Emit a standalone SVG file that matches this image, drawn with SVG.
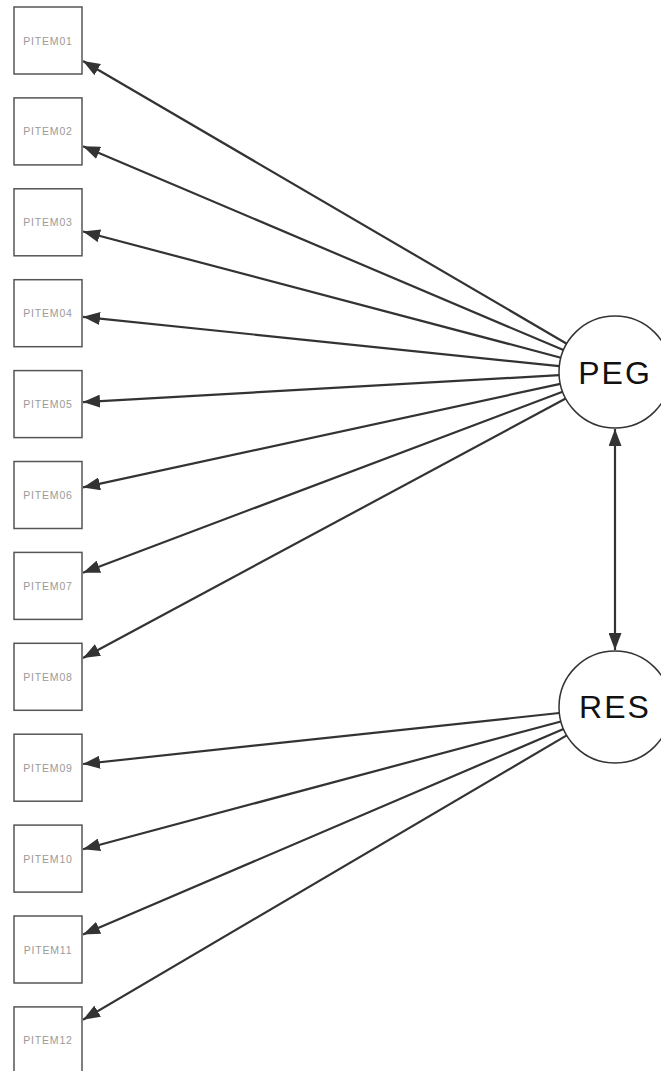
<svg xmlns="http://www.w3.org/2000/svg" width="661" height="1071" viewBox="0 0 661 1071">
<style>
.box{fill:#fff;stroke:#555;stroke-width:1.5}
.lbl{font-family:"Liberation Sans",Arial,sans-serif;font-size:10.5px;fill:#9a9a9a;text-anchor:middle;letter-spacing:0.8px}
.lat{fill:#fff;stroke:#333;stroke-width:1.5}
.ltxt{font-family:"Liberation Sans",Arial,sans-serif;font-size:32px;fill:#111;text-anchor:middle;letter-spacing:2px}
.edge{stroke:#333;stroke-width:2.2;fill:none}
</style>
<defs>
<marker id="ah" viewBox="0 0 17 13" refX="17" refY="6.5" markerWidth="17" markerHeight="13" markerUnits="userSpaceOnUse" orient="auto-start-reverse">
<path d="M0,0 L17,6.5 L0,13 z" fill="#333"/>
</marker>
</defs>
<rect width="661" height="1071" fill="#fff"/>
<g id="connectors">
<line class="edge" x1="566.7" y1="343.7" x2="83" y2="61.0" marker-end="url(#ah)"/>
<line class="edge" x1="563.4" y1="350.1" x2="83" y2="146.2" marker-end="url(#ah)"/>
<line class="edge" x1="560.9" y1="357.7" x2="83" y2="231.5" marker-end="url(#ah)"/>
<line class="edge" x1="559.3" y1="366.2" x2="83" y2="316.8" marker-end="url(#ah)"/>
<line class="edge" x1="559.1" y1="375.2" x2="83" y2="402.1" marker-end="url(#ah)"/>
<line class="edge" x1="560.3" y1="383.9" x2="83" y2="487.4" marker-end="url(#ah)"/>
<line class="edge" x1="562.6" y1="391.8" x2="83" y2="572.7" marker-end="url(#ah)"/>
<line class="edge" x1="565.7" y1="398.5" x2="83" y2="658.0" marker-end="url(#ah)"/>
<line class="edge" x1="559.3" y1="713.0" x2="83" y2="764.0" marker-end="url(#ah)"/>
<line class="edge" x1="560.9" y1="721.5" x2="83" y2="849.2" marker-end="url(#ah)"/>
<line class="edge" x1="563.5" y1="729.0" x2="83" y2="934.5" marker-end="url(#ah)"/>
<line class="edge" x1="566.7" y1="735.4" x2="83" y2="1019.8" marker-end="url(#ah)"/>
<line class="edge" x1="615" y1="429" x2="615" y2="650" marker-start="url(#ah)" marker-end="url(#ah)"/>
</g>
<g id="PITEM01"><rect class="box" x="14" y="7" width="68" height="67"/><text class="lbl" x="48" y="44.5">PITEM01</text></g>
<g id="PITEM02"><rect class="box" x="14" y="97.9" width="68" height="67"/><text class="lbl" x="48" y="135.4">PITEM02</text></g>
<g id="PITEM03"><rect class="box" x="14" y="188.8" width="68" height="67"/><text class="lbl" x="48" y="226.3">PITEM03</text></g>
<g id="PITEM04"><rect class="box" x="14" y="279.7" width="68" height="67"/><text class="lbl" x="48" y="317.2">PITEM04</text></g>
<g id="PITEM05"><rect class="box" x="14" y="370.6" width="68" height="67"/><text class="lbl" x="48" y="408.1">PITEM05</text></g>
<g id="PITEM06"><rect class="box" x="14" y="461.5" width="68" height="67"/><text class="lbl" x="48" y="499">PITEM06</text></g>
<g id="PITEM07"><rect class="box" x="14" y="552.4" width="68" height="67"/><text class="lbl" x="48" y="589.9">PITEM07</text></g>
<g id="PITEM08"><rect class="box" x="14" y="643.3" width="68" height="67"/><text class="lbl" x="48" y="680.8">PITEM08</text></g>
<g id="PITEM09"><rect class="box" x="14" y="734.2" width="68" height="67"/><text class="lbl" x="48" y="771.7">PITEM09</text></g>
<g id="PITEM10"><rect class="box" x="14" y="825.1" width="68" height="67"/><text class="lbl" x="48" y="862.6">PITEM10</text></g>
<g id="PITEM11"><rect class="box" x="14" y="916" width="68" height="67"/><text class="lbl" x="48" y="953.5">PITEM11</text></g>
<g id="PITEM12"><rect class="box" x="14" y="1006.9" width="68" height="67"/><text class="lbl" x="48" y="1044.4">PITEM12</text></g>
<g id="PEG"><circle class="lat" cx="615" cy="372" r="56"/><text class="ltxt" x="615" y="384">PEG</text></g>
<g id="RES"><circle class="lat" cx="615" cy="707" r="56"/><text class="ltxt" x="615" y="718">RES</text></g>
</svg>
